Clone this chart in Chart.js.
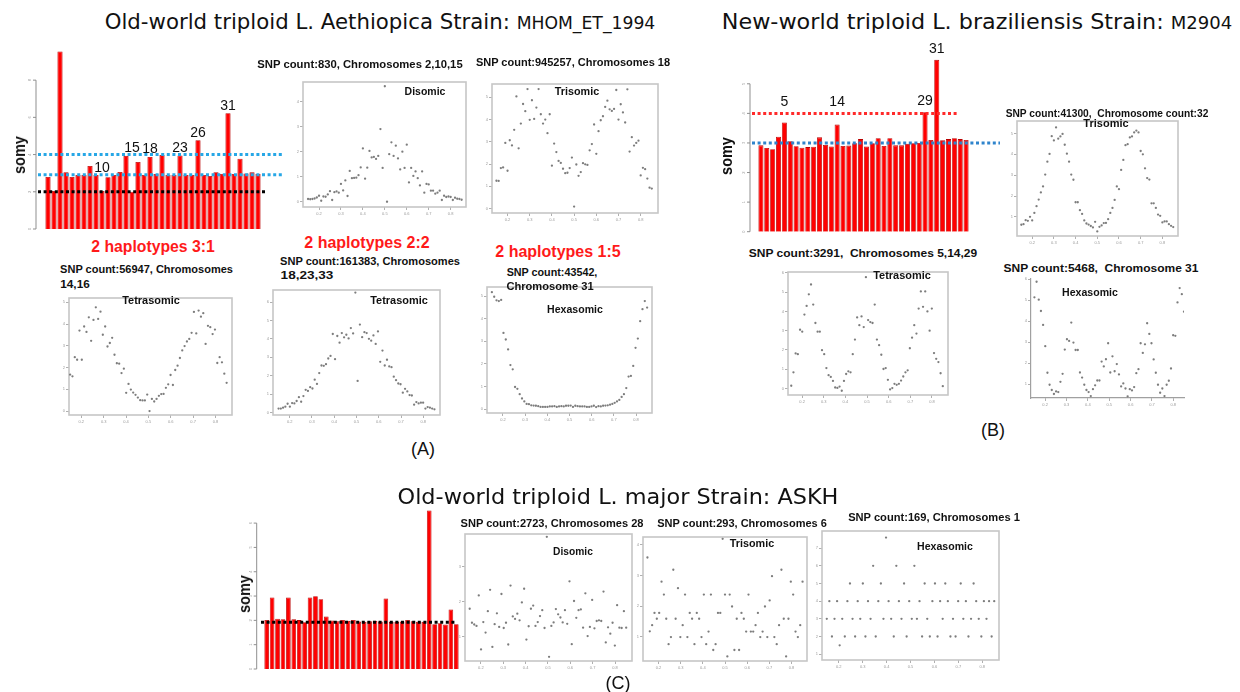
<!DOCTYPE html>
<html>
<head>
<meta charset="utf-8">
<script src="https://cdn.jsdelivr.net/npm/chart.js@4.4.1/dist/chart.umd.min.js"></script>
<style>
  body { margin: 0; width: 1240px; height: 692px; position: relative; overflow: hidden; background: #fff; font-family: "Liberation Sans", Arial, sans-serif; }
  canvas { position: absolute; }
  .t { position: absolute; white-space: nowrap; line-height: 1; color: #111; }
  .title { font-family: "DejaVu Sans", sans-serif; font-size: 21px; }
  .snp { font-weight: bold; font-size: 11px; }
  .kind { font-weight: bold; font-size: 11.5px; }
  .hap { font-weight: bold; font-size: 16px; color: #ff1a1a; }
  .somy { font-weight: bold; font-size: 16px; }
  .panel { font-size: 18px; }
</style>
</head>
<body>
<script>
// chromosome somy per strain
const chromosomes = [1, 2, 3, 4, 5, 6, 7, 8, 9, 10, 11, 12, 13, 14, 15, 16, 17, 18,
  19, 20, 21, 22, 23, 24, 25, 26, 27, 28, 29, 30, 31, 32, 33, 34, 35, 36];
const somyA = [2.80, 2.04, 9.54, 3.05, 2.80, 2.90, 2.90, 3.39, 2.90, 2.04, 2.78, 2.90,
  3.07, 3.93, 2.00, 3.60, 2.90, 3.87, 2.96, 3.98, 2.90, 2.90, 3.95, 2.90,
  2.90, 4.77, 2.90, 2.85, 3.05, 2.96, 6.22, 2.96, 3.78, 2.98, 3.05, 2.96];
const somyB = [2.92, 2.83, 2.79, 3.21, 3.69, 3.06, 2.89, 2.84, 2.86, 2.87, 3.19, 2.93,
  2.88, 3.62, 2.90, 2.91, 2.99, 3.13, 2.88, 2.99, 3.16, 2.90, 3.16, 2.92,
  2.92, 2.97, 2.99, 3.00, 4.04, 3.10, 5.81, 3.09, 3.13, 3.16, 3.13, 3.10];
const somyC = [2.02, 2.94, 2.07, 2.05, 2.94, 2.05, 2.01, 1.92, 2.94, 2.99, 2.87, 2.16,
  1.99, 1.96, 2.02, 1.98, 2.02, 1.95, 1.94, 1.96, 1.98, 1.95, 2.90, 1.94,
  1.94, 1.95, 2.02, 1.96, 1.94, 1.94, 6.52, 1.84, 1.88, 1.83, 2.45, 1.84];
const marksA = [10, 15, 18, 23, 26, 31];
const marksB = [5, 14, 29, 31];

// allele frequency histograms (SNP counts per bin, bins from 0.15 to 0.85)
const afDiA = [0.12, 0.11, 0.12, 0.14, 0.18, 0.25, 0.05, 0.22, 0.21, 0.30, 0.43, 0.08, 0.39, 0.42, 0.37, 0.72,
  0.46, 0.86, 0.24, 1.24, 0.95, 0.96, 0.97, 1.07, 1.38, 2.14, 0.93, 1.37, 2.04, 1.78, 1.80, 1.72, 1.84, 2.91,
  1.36, 4.62, 0.01, 1.91, 2.38, 1.84, 2.25, 1.74, 1.30, 2.01, 1.36, 2.29, 0.78, 1.36, 1.04, 1.22, 0.95, 0.66,
  1.22, 0.37, 0.72, 0.70, 0.45, 0.45, 0.33, 0.37, 0.45, 0.08, 0.25, 0.20, 0.22, 0.20, 0.08, 0.17, 0.13, 0.12, 0.09];
const afTriA = [1.25, 1.24, 1.82, 1.85, 2.95, 1.70, 3.07, 2.84, 3.54, 5.04, 2.71, 3.82, 4.70, 4.38, 5.37, 3.99,
  4.87, 4.03, 4.54, 5.37, 4.24, 3.82, 4.00, 3.39, 4.24, 1.93, 2.92, 2.54, 2.14, 2.05, 1.79, 1.59, 1.61, 1.82,
  2.29, 0.09, 1.98, 1.47, 1.64, 2.04, 1.99, 1.96, 2.62, 2.90, 3.78, 2.46, 3.48, 3.97, 4.15, 4.57, 4.85, 4.46,
  4.39, 4.48, 5.33, 4.00, 4.69, 4.32, 3.87, 5.36, 2.56, 3.21, 2.83, 2.95, 3.05, 1.49, 1.83, 1.77, 1.35, 0.94, 0.90];
const afTet31A = [1.68, 1.60, 2.48, 2.36, 3.70, 2.36, 3.89, 3.64, 4.31, 3.23, 4.19, 4.77, 4.24, 4.57, 3.51, 3.89,
  2.97, 3.13, 3.37, 2.59, 2.20, 2.18, 1.75, 1.95, 0.84, 1.25, 0.99, 0.85, 0.75, 0.62, 0.50, 0.49, 0.49, 0.76,
  0.00, 0.56, 0.44, 0.56, 0.70, 0.78, 0.79, 1.07, 1.23, 1.66, 1.20, 1.89, 2.09, 2.44, 2.79, 2.99, 3.20, 3.32,
  3.60, 4.56, 3.57, 4.62, 4.34, 4.50, 3.09, 3.92, 3.86, 3.54, 3.75, 2.21, 2.48, 2.24, 1.72, 1.30];
const afTet22A = [0.22, 0.22, 0.27, 0.32, 0.48, 0.32, 0.52, 0.50, 0.63, 0.84, 0.59, 0.90, 1.24, 1.18, 1.38, 1.31,
  1.79, 1.56, 2.15, 2.56, 2.54, 2.63, 2.94, 3.08, 4.27, 2.90, 4.16, 3.80, 4.32, 4.09, 4.23, 4.03, 4.59, 4.30,
  6.52, 1.72, 4.78, 4.10, 4.37, 4.32, 4.01, 3.91, 4.19, 3.73, 4.41, 2.76, 3.37, 2.56, 2.87, 2.51, 2.47, 1.95,
  1.76, 1.58, 1.54, 1.08, 1.29, 1.15, 0.95, 0.93, 0.43, 0.57, 0.50, 0.54, 0.54, 0.22, 0.30, 0.27, 0.22, 0.18];
const afHexA = [5.17, 4.97, 4.81, 4.78, 4.83, 3.37, 3.08, 2.64, 1.95, 1.76, 0.98, 0.90, 0.66, 0.47, 0.34, 0.23,
  0.22, 0.17, 0.16, 0.15, 0.13, 0.10, 0.10, 0.10, 0.10, 0.12, 0.12, 0.13, 0.10, 0.12, 0.13, 0.12, 0.15, 0.15,
  0.16, 0.10, 0.15, 0.13, 0.12, 0.12, 0.12, 0.10, 0.10, 0.12, 0.15, 0.09, 0.13, 0.12, 0.15, 0.16, 0.17, 0.20,
  0.23, 0.28, 0.34, 0.41, 0.54, 0.66, 0.93, 1.44, 1.47, 1.91, 2.71, 3.12, 3.89, 4.42, 4.78, 4.49];
const afTriB = [0.62, 0.65, 0.84, 0.81, 1.00, 0.83, 1.19, 1.51, 1.83, 2.17, 2.46, 3.03, 3.65, 4.02, 4.87, 4.67,
  5.29, 4.75, 4.86, 4.98, 4.46, 4.03, 3.65, 3.03, 2.78, 1.70, 1.70, 1.32, 1.14, 0.83, 0.68, 0.63, 0.56, 0.49,
  0.76, 0.30, 0.52, 0.59, 0.70, 0.71, 0.89, 1.19, 1.43, 1.81, 2.46, 2.33, 3.25, 3.73, 4.44, 4.49, 4.81, 4.86,
  5.05, 5.14, 5.05, 4.16, 4.00, 3.33, 2.86, 2.79, 1.65, 1.65, 1.43, 1.11, 1.05, 0.73, 0.78, 0.78, 0.65, 0.57, 0.51];
const afTetB = [0.14, 0.84, 1.82, 1.78, 3.05, 2.95, 3.84, 4.29, 4.89, 5.40, 4.36, 3.40, 2.95, 2.95, 1.99, 1.78,
  1.06, 0.69, 0.60, 0.39, 0.05, 0.03, 0.10, -0.12, 0.39, 0.75, 0.89, 0.84, 1.78, 2.54, 3.69, 3.29, 3.74, 3.19,
  5.78, 3.55, 3.45, 3.40, 4.36, 2.54, 2.25, 1.75, 1.01, 1.06, 0.45, -0.05, 0.02, 0.24, 0.19, 0.24, 0.41, 0.62,
  0.84, 0.94, 2.09, 2.64, 3.29, 2.85, 4.15, 5.04, 4.24, 5.04, 4.00, 3.00, 4.15, 1.84, 1.54, 1.37, 0.79, 0.12];
const afHexB = [5.13, 5.87, 5.02, 4.48, 3.82, 2.81, 1.55, 0.98, 0.73, 0.54, 0.66, 0.63, 1.12, 1.50, 2.65, 3.14,
  3.06, 3.93, 2.98, 2.63, 2.63, 1.56, 1.32, 0.98, 0.73, 0.63, 0.44, 0.77, 0.95, 1.18, 1.18, 2.08, 1.85, 2.19,
  2.95, 1.56, 2.33, 1.62, 1.96, 1.47, 0.90, 1.04, 0.80, 0.43, 0.77, 0.71, 0.87, 1.53, 1.72, 2.95, 2.49, 2.90,
  3.90, 3.39, 2.95, 2.18, 1.55, 0.98, 0.60, 0.80, 0.44, 0.98, 1.17, 1.75, 3.33, 3.30, 4.89, 5.57, 5.28, 4.45];
const afDiC = [1.80, 1.40, 1.35, 1.31, 2.18, 0.64, 1.42, 1.12, 1.73, 2.34, 0.71, 1.36, 1.67, 1.28, 2.22, 1.25,
  1.40, 0.78, 2.46, 1.58, 1.51, 1.66, 1.47, 1.98, 2.37, 0.92, 1.30, 1.80, 1.89, 1.31, 1.42, 1.59, 1.76, 1.25,
  3.85, 0.43, 1.31, 1.41, 1.79, 1.64, 1.55, 1.41, 1.76, 1.37, 2.58, 0.79, 2.02, 1.54, 1.76, 1.78, 1.26, 2.24,
  1.02, 1.28, 2.05, 1.24, 1.45, 1.47, 1.45, 2.29, 0.84, 1.27, 1.09, 1.40, 0.75, 1.90, 1.26, 1.25, 1.73, 1.26];
const afTriC = [3.59, 1.18, 1.38, 1.78, 1.59, 1.78, 2.80, 2.38, 1.59, 0.76, 0.99, 3.19, 1.59, 2.59, 0.99, 1.38,
  2.38, 0.99, 1.78, 1.59, 0.76, 1.78, 1.59, 0.99, 2.38, 0.76, 1.17, 2.38, 0.57, 0.76, 1.78, 1.78, 4.20, 2.38,
  0.36, 2.38, 1.99, 0.57, 1.59, 0.57, 1.78, 1.59, 1.17, 2.38, 1.17, 1.17, 1.38, 1.78, 0.99, 1.17, 1.99, 0.99,
  2.19, 2.98, 0.99, 0.76, 1.38, 3.19, 1.59, 0.36, 1.59, 2.80, 2.38, 1.17, 0.99, 1.38, 2.80];
const afHexC = [3, 4, 2, 3, 4, 1.5, 3, 2, 4, 5, 3, 2, 4, 3, 5, 2, 4, 3, 6, 2, 4, 5, 3, 7.6, 4, 3, 2, 6, 4, 3,
  5, 2, 4, 3, 6, 3, 4, 2, 5, 3, 2, 4, 5, 2, 4, 3, 5, 4, 2, 3, 2, 4, 5, 3, 4, 2, 3, 5, 4, 3, 2, 4, 3, 4, 2, 4];

Chart.defaults.animation = false;
Chart.defaults.responsive = false;
Chart.defaults.devicePixelRatio = 1;
Chart.defaults.events = [];
Chart.defaults.plugins.legend.display = false;
Chart.defaults.plugins.tooltip.enabled = false;
Chart.defaults.font.family = "'Liberation Sans', Arial, sans-serif";

function makeCanvas(x, y, w, h) {
  const c = document.createElement("canvas");
  c.width = w;
  c.height = h;
  c.style.left = x + "px";
  c.style.top = y + "px";
  document.body.appendChild(c);
  return c;
}

// dotted reference lines, detached R-style y axis, chromosome numbers
function drawSomy(chart, o) {
  const { ctx, chartArea: a } = chart;
  const x = chart.scales.x, y = chart.scales.y;
  ctx.save();
  ctx.lineWidth = 3;
  ctx.setLineDash([3, 2.6]);
  o.refs.forEach((ref) => {
    const py = y.getPixelForValue(ref.v);
    ctx.strokeStyle = ref.color;
    ctx.beginPath();
    ctx.moveTo(a.left + ref.from, py);
    ctx.lineTo(a.right + ref.to, py);
    ctx.stroke();
  });
  ctx.setLineDash([]);

  const ax = a.left - o.axisGap;
  ctx.strokeStyle = "#8f8f8f";
  ctx.lineWidth = 1;
  ctx.beginPath();
  ctx.moveTo(ax, y.getPixelForValue(0));
  ctx.lineTo(ax, y.getPixelForValue(o.tickMax));
  ctx.stroke();
  ctx.fillStyle = "#9a9a9a";
  ctx.font = "4px sans-serif";
  ctx.textAlign = "center";
  for (let v = 0; v <= o.tickMax; v += o.tickStep) {
    const py = y.getPixelForValue(v);
    ctx.beginPath();
    ctx.moveTo(ax, py);
    ctx.lineTo(ax - 3, py);
    ctx.stroke();
    ctx.save();
    ctx.translate(ax - 5, py);
    ctx.rotate(-Math.PI / 2);
    ctx.fillText(String(v), 0, 0);
    ctx.restore();
  }

  ctx.fillStyle = "#111";
  ctx.font = "14px 'Liberation Sans', Arial";
  o.marks.forEach((m) => {
    const i = m - 1;
    const top = Math.max(o.floor, o.values[i - 1] || 0, o.values[i], o.values[i + 1] || 0);
    ctx.fillText(String(m), x.getPixelForValue(i), y.getPixelForValue(top) - o.markGap);
  });
  ctx.restore();
}

function somyChart(o) {
  const [l, t, r, b] = o.area;
  const [cl, ct, cr, cb] = o.canvas;
  const c = makeCanvas(cl, ct, cr - cl, cb - ct);
  new Chart(c, {
    type: "bar",
    data: {
      labels: chromosomes,
      datasets: [{
        data: o.values,
        backgroundColor: "#ff0000",
        borderColor: "#b80000",
        borderWidth: 0.8,
        barPercentage: 0.86,
        categoryPercentage: 1,
      }],
    },
    options: {
      layout: { padding: { left: l - cl, top: t - ct, right: cr - r, bottom: cb - b } },
      scales: {
        x: { display: false },
        y: { display: false, min: 0, max: o.yMax },
      },
    },
    plugins: [{ id: "somy", afterDatasetsDraw: (chart) => drawSomy(chart, o) }],
  });
}

function afChart(o) {
  const [l, t, r, b] = o.box;
  const padL = 12, padT = 3, padR = 3, padB = 10;
  const c = makeCanvas(l - padL, t - padT, r - l + padL + padR, b - t + padT + padB);
  const n = o.values.length;
  const points = o.values.map((v, i) => ({ x: 0.15 + (i * 0.7) / (n - 1), y: v }));
  const axis = (min, max, step, fmt) => ({
    min: min,
    max: max,
    ticks: { stepSize: step, includeBounds: false, font: { size: 4 }, color: "#9a9a9a", padding: 1, callback: fmt },
    grid: { drawOnChartArea: false, tickLength: 3, color: "#b0b0b0" },
    border: { display: o.frame === "L", color: "#a0a0a0", width: 1.2 },
  });
  new Chart(c, {
    type: "scatter",
    data: {
      datasets: [{ data: points, pointRadius: 1.15, pointBackgroundColor: "#7d7d7d", pointBorderWidth: 0 }],
    },
    options: {
      layout: { padding: { left: 0, top: padT, right: padR, bottom: 0 } },
      scales: {
        x: Object.assign(axis(o.xr[0], o.xr[1], 0.1, (v) => v.toFixed(1)), { afterFit: (s) => { s.height = padB; } }),
        y: Object.assign(axis(o.yr[0], o.yr[1], 1, (v) => v), { afterFit: (s) => { s.width = padL; } }),
      },
    },
    plugins: [{
      id: "frame",
      beforeDatasetsDraw(chart) {
        if (o.frame === "L") return;
        const { ctx, chartArea: a } = chart;
        ctx.save();
        ctx.strokeStyle = "#c6c6c6";
        ctx.lineWidth = 1.6;
        ctx.strokeRect(a.left, a.top, a.right - a.left, a.bottom - a.top);
        ctx.restore();
      },
    }],
  });
}

function label(text, x, y, cls, opts = {}) {
  const d = document.createElement("div");
  d.className = "t " + cls;
  d.innerHTML = text;
  document.body.appendChild(d);
  const natural = d.offsetWidth;
  const s = opts.w ? opts.w / natural : 1;
  const cx = opts.left ? x + (opts.w || natural) / 2 : x;
  d.style.left = cx + "px";
  d.style.top = y + "px";
  d.style.transform = "translate(-50%,-50%) " + (opts.rot ? "rotate(-90deg) " : "") + "scaleX(" + s + ")";
}

// somy bar charts
somyChart({
  area: [45, 50, 261, 229], canvas: [8, 40, 292, 236], values: somyA, yMax: 9.62,
  tickMax: 8, tickStep: 2, axisGap: 9, marks: marksA, floor: 0, markGap: 3.5,
  refs: [
    { v: 2.92, color: "#27a7e6", from: -7, to: 22 },
    { v: 4.0, color: "#27a7e6", from: -7, to: 22 },
    { v: 2.0, color: "#000000", from: -7, to: 4 },
  ],
});
somyChart({
  area: [758, 56, 969, 231.7], canvas: [715, 40, 1005, 238], values: somyB, yMax: 5.94,
  tickMax: 5, tickStep: 1, axisGap: 8, marks: marksB, floor: 4, markGap: 7,
  refs: [
    { v: 4, color: "#ff2a2a", from: -6, to: -12 },
    { v: 3, color: "#2f84cc", from: -6, to: 31 },
  ],
});
somyChart({
  area: [264, 509, 459, 669], canvas: [240, 500, 463, 676], values: somyC, yMax: 6.58,
  tickMax: 6, tickStep: 1, axisGap: 7.3, marks: [], floor: 0, markGap: 0,
  refs: [{ v: 1.92, color: "#000000", from: -3, to: -4 }],
});

// allele frequency plots
afChart({ box: [303, 81, 467, 207], xr: [0.127, 0.87], yr: [-0.2, 4.79], values: afDiA });
afChart({ box: [492, 83, 659, 213], xr: [0.13, 0.878], yr: [-0.2, 5.6], values: afTriA });
afChart({ box: [69, 297, 233, 415], xr: [0.145, 0.874], yr: [-0.18, 5.2], values: afTet31A });
afChart({ box: [273, 289, 441, 415], xr: [0.125, 0.875], yr: [-0.13, 6.66], values: afTet22A });
afChart({ box: [487, 286, 653, 413], xr: [0.128, 0.872], yr: [-0.17, 5.4], values: afHexA });
afChart({ box: [1017, 120, 1179, 236], xr: [0.13, 0.872], yr: [0.08, 5.6], values: afTriB });
afChart({ box: [788, 271, 949, 395], xr: [0.135, 0.874], yr: [-0.34, 6.05], values: afTetB });
afChart({ box: [1031, 278, 1185, 398], xr: [0.134, 0.85], yr: [0.35, 6.0], values: afHexB, frame: "L" });
afChart({ box: [465, 533, 633, 661], xr: [0.129, 0.876], yr: [0.31, 3.93], values: afDiC });
afChart({ box: [643, 536, 808, 661], xr: [0.13, 0.87], yr: [0.21, 4.26], values: afTriC });
afChart({ box: [822, 530, 1000, 660], xr: [0.13, 0.87], yr: [0.67, 7.97], values: afHexC });

// titles and annotations
label('Old-world triploid L. Aethiopica Strain: <span style="font-size:17px">MHOM_ET_1994</span>', 104, 22, "title", { left: true, w: 551 });
label('New-world triploid L. braziliensis Strain: <span style="font-size:17px">M2904</span>', 722, 22, "title", { left: true, w: 510 });
label("Old-world triploid L. major Strain: ASKH", 397, 497, "title", { left: true, w: 441 });

label("somy", 20, 155, "somy", { rot: true, w: 38 });
label("somy", 727, 156, "somy", { rot: true, w: 38 });
label("somy", 245, 594, "somy", { rot: true, w: 38 });

label("SNP count:830, Chromosomes 2,10,15", 257, 64, "snp", { left: true, w: 205 });
label("SNP count:945257, Chromosomes 18", 476, 62, "snp", { left: true, w: 194 });
label("2 haplotypes 3:1", 153, 247, "hap", { w: 123 });
label("2 haplotypes 2:2", 367, 243, "hap", { w: 125 });
label("2 haplotypes 1:5", 558, 252, "hap", { w: 125 });
label("SNP count:56947, Chromosomes", 60, 269, "snp", { left: true, w: 173 });
label("14,16", 60, 284, "snp", { left: true, w: 30 });
label("SNP count:161383, Chromosomes", 280, 261, "snp", { left: true, w: 180 });
label("18,23,33", 280, 275, "snp", { left: true, w: 53 });
label("SNP count:43542,", 506, 272, "snp", { left: true, w: 91 });
label("Chromosome 31", 506, 286, "snp", { left: true, w: 87 });
label("SNP count:41300,&nbsp; Chromosome count:32", 1005, 113, "snp", { left: true, w: 203 });
label("SNP count:3291,&nbsp; Chromosomes 5,14,29", 748, 253, "snp", { left: true, w: 229 });
label("SNP count:5468,&nbsp; Chromosome 31", 1003, 268, "snp", { left: true, w: 195 });
label("SNP count:2723, Chromosomes 28", 460, 523, "snp", { left: true, w: 183 });
label("SNP count:293, Chromosomes 6", 657, 523, "snp", { left: true, w: 170 });
label("SNP count:169, Chromosomes 1", 848, 517, "snp", { left: true, w: 172 });

label("Disomic", 425, 92, "kind", { w: 41 });
label("Trisomic", 577, 92, "kind", { w: 44 });
label("Tetrasomic", 151, 301, "kind", { w: 58 });
label("Tetrasomic", 399, 301, "kind", { w: 58 });
label("Hexasomic", 575, 310, "kind", { w: 56 });
label("Trisomic", 1106, 124, "kind", { w: 45 });
label("Tetrasomic", 902, 276, "kind", { w: 58 });
label("Hexasomic", 1090, 293, "kind", { w: 56 });
label("Disomic", 573, 552, "kind", { w: 40 });
label("Trisomic", 752, 544, "kind", { w: 44 });
label("Hexasomic", 945, 547, "kind", { w: 56 });

label("(A)", 423, 449, "panel");
label("(B)", 993, 430, "panel");
label("(C)", 618, 683, "panel");
</script>
</body>
</html>
